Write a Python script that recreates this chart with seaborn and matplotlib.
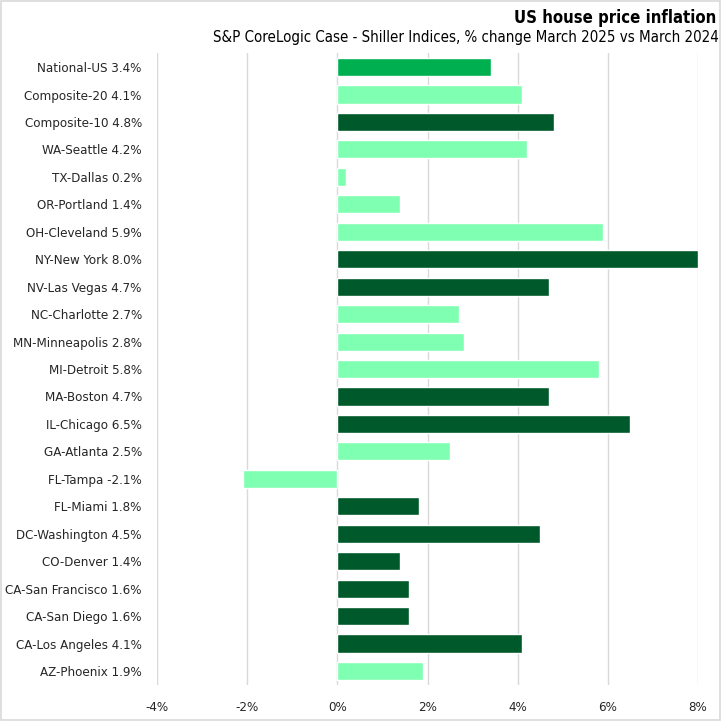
import matplotlib
matplotlib.use("Agg")
import matplotlib.pyplot as plt
import seaborn as sns
import pandas as pd
from matplotlib.ticker import FuncFormatter, MultipleLocator
from matplotlib.patches import Rectangle

regions = ["National-US", "Composite-20", "Composite-10", "WA-Seattle", "TX-Dallas",
           "OR-Portland", "OH-Cleveland", "NY-New York", "NV-Las Vegas", "NC-Charlotte",
           "MN-Minneapolis", "MI-Detroit", "MA-Boston", "IL-Chicago", "GA-Atlanta",
           "FL-Tampa", "FL-Miami", "DC-Washington", "CO-Denver", "CA-San Francisco",
           "CA-San Diego", "CA-Los Angeles", "AZ-Phoenix"]
changes = [3.4, 4.1, 4.8, 4.2, 0.2, 1.4, 5.9, 8.0, 4.7, 2.7, 2.8, 5.8, 4.7, 6.5, 2.5,
           -2.1, 1.8, 4.5, 1.4, 1.6, 1.6, 4.1, 1.9]
groups = ["national", "light", "dark", "light", "light", "light", "light", "dark", "dark",
          "light", "light", "light", "dark", "dark", "light", "light", "dark", "dark",
          "dark", "dark", "dark", "dark", "light"]
group_colors = {"national": "#00B050", "light": "#7FFFB2", "dark": "#00592A"}

labels = [f"{r} {v:.1f}%" for r, v in zip(regions, changes)]
df = pd.DataFrame({"label": labels, "change": changes, "group": groups})

sns.set_theme(style="white")
plt.rcParams["font.family"] = ["DejaVu Sans"]
plt.rcParams["font.stretch"] = "condensed"

fig = plt.figure(figsize=(7.21, 7.21), dpi=100)
ax = fig.add_axes([0.2178, 0.0503, 0.7503, 0.8757])

sns.barplot(data=df, x="change", y="label", hue="group", palette=group_colors,
            dodge=False, legend=False, width=0.66, ax=ax, orient="h", saturation=1)

ax.set_xlim(-4, 8)
ax.xaxis.set_major_locator(MultipleLocator(2))
ax.xaxis.set_major_formatter(FuncFormatter(lambda v, p: f"{v:.0f}%"))
ax.grid(axis="x", color="#D9D9D9", linewidth=1)
ax.set_axisbelow(True)
for s in ax.spines.values():
    s.set_visible(False)
ax.set_xlabel("")
ax.set_ylabel("")
ax.tick_params(axis="both", length=0, labelsize=9.5, colors="#262626")
ax.tick_params(axis="x", pad=12)
ax.tick_params(axis="y", pad=11)

fig.text(0.993, 0.975, "US house price inflation", ha="right", va="center",
         fontsize=12, fontweight="bold", color="#000000")
fig.text(0.997, 0.948, "S&P CoreLogic Case - Shiller Indices, % change March 2025 vs March 2024",
         ha="right", va="center", fontsize=10.8, color="#000000")

fig.patches.append(Rectangle((0.001, 0.001), 0.997, 0.997, transform=fig.transFigure,
                             fill=False, edgecolor="#D9D9D9", linewidth=1.2))

fig.savefig("out.png", dpi=100)
